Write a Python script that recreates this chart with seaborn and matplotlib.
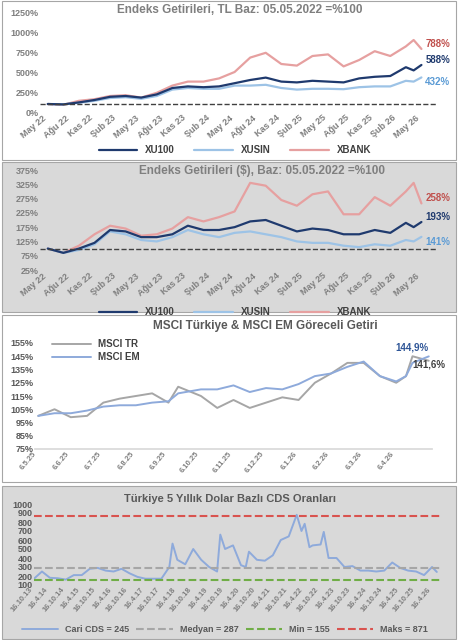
import numpy as np
import pandas as pd
import seaborn as sns
import matplotlib.pyplot as plt
from matplotlib.patches import Rectangle

# --- Panel 1: TL based returns (month offset from May 22) ---
m_x = [0, 2, 4, 6, 8, 10, 12, 14, 16, 18, 20, 22, 24, 26, 28, 30, 32, 34, 36, 38, 40, 42, 44, 46, 47, 48]
tl_xu100 = [100, 95, 120, 150, 190, 200, 180, 220, 300, 320, 310, 320, 360, 400, 430, 380, 370, 390, 380, 370, 420, 440, 450, 560, 520, 588]
tl_xusin = [100, 95, 115, 140, 175, 185, 165, 200, 280, 300, 290, 290, 330, 330, 340, 300, 280, 290, 290, 285, 310, 320, 320, 390, 380, 432]
tl_xbank = [100, 90, 140, 160, 200, 210, 180, 240, 330, 380, 380, 420, 500, 680, 740, 600, 580, 700, 720, 570, 650, 760, 700, 820, 900, 788]

# --- Panel 2: USD based returns ---
usd_xu100 = [100, 85, 100, 120, 165, 160, 140, 140, 150, 180, 165, 165, 175, 195, 200, 180, 160, 170, 165, 150, 150, 165, 155, 190, 175, 193]
usd_xusin = [100, 85, 95, 115, 160, 150, 130, 125, 140, 165, 150, 140, 155, 160, 150, 140, 125, 120, 120, 110, 105, 115, 110, 130, 125, 141]
usd_xbank = [100, 85, 110, 150, 180, 170, 145, 150, 170, 210, 195, 210, 230, 330, 320, 270, 250, 290, 300, 220, 220, 280, 250, 300, 330, 258]
month_ticks = ["May 22", "Ağu 22", "Kas 22", "Şub 23", "May 23", "Ağu 23", "Kas 23", "Şub 24", "May 24",
               "Ağu 24", "Kas 24", "Şub 25", "May 25", "Ağu 25", "Kas 25", "Şub 26", "May 26"]

# --- Panel 3: MSCI relative (months from 6.5.25) ---
ms_x = [0, 0.5, 1, 1.5, 2, 2.5, 3, 3.5, 4, 4.3, 5, 5.5, 6, 6.5, 7, 7.5, 8, 8.5, 9, 9.5, 10, 10.5, 11, 11.3, 11.5, 12]
msci_tr = [100, 105, 99, 100, 110, 113, 115, 117, 110, 122, 115, 106, 112, 106, 110, 114, 112, 125, 132, 140, 140, 130, 125, 130, 145, 141.6]
msci_em = [100, 102, 102, 104, 107, 108, 108, 110, 111, 117, 120, 120, 123, 118, 121, 120, 124, 130, 132, 137, 141, 130, 126, 130, 140, 144.9]
ms_ticks = ["6.5.25", "6.6.25", "6.7.25", "6.8.25", "6.9.25", "6.10.25", "6.11.25", "6.12.25",
            "6.1.26", "6.2.26", "6.3.26", "6.4.26"]

# --- Panel 4: CDS (half-years from 16.10.13) ---
cds_x = [0, 0.5, 1, 1.5, 2, 2.5, 3, 3.5, 4, 4.5, 5, 5.5, 6, 6.5, 7, 7.5, 8, 8.5, 8.7, 9, 9.5, 10, 10.5, 11,
         11.5, 11.7, 12, 12.5, 13, 13.3, 13.5, 14, 14.5, 15, 15.5, 16, 16.5, 16.8, 17, 17.3, 17.5, 18, 18.2,
         18.5, 19, 19.5, 20, 20.5, 21, 21.5, 22, 22.5, 23, 23.5, 24, 24.5, 25, 25.3]
cds = [170, 250, 180, 175, 160, 210, 210, 280, 290, 260, 250, 280, 230, 190, 170, 170, 170, 300, 560, 380,
       330, 500, 380, 300, 250, 660, 500, 540, 320, 300, 470, 380, 370, 430, 600, 640, 880, 700, 780, 520,
       540, 550, 690, 400, 400, 300, 310, 260, 260, 250, 260, 350, 290, 260, 250, 210, 300, 245]
cds_ticks = [f"16.{'10' if i % 2 == 0 else '4'}.{13 + (i + 1) // 2}" for i in range(26)]
cds_med, cds_min, cds_max = 287, 155, 871

sns.set_theme(style="white")
plt.rcParams['font.family'] = ['Liberation Sans', 'DejaVu Sans']
plt.rcParams['font.weight'] = 'bold'

W, H = 458, 640
fig = plt.figure(figsize=(W / 100, H / 100), dpi=100)
fig.patch.set_facecolor("white")

GRAY_BG = "#d9d9d9"
TXT = "#7f7f7f"
NAVY = "#1f3a6e"
LBLUE = "#9dc3e6"
PINK = "#e6a0a0"


def box(top, bottom, color):
    fig.patches.append(Rectangle((2 / W, 1 - bottom / H), (W - 4) / W, (bottom - top) / H,
                                 transform=fig.transFigure, facecolor=color, edgecolor="#a6a6a6", lw=0.8, zorder=-5))


def ax_at(left, top, right, bottom):
    ax = fig.add_axes([left / W, 1 - bottom / H, (right - left) / W, (bottom - top) / H])
    ax.set_facecolor("none")
    for s in ax.spines.values():
        s.set_visible(False)
    ax.tick_params(labelsize=6.5, colors=TXT, length=0, pad=1)
    return ax


def ftext(x, y, s, **kw):
    fig.text(x / W, 1 - y / H, s, **kw)


def flegend(ax, handles, labels, x, y, **kw):
    fig.legend(handles, labels, loc="center", bbox_to_anchor=(x / W, 1 - y / H), frameon=False,
               handlelength=4, **kw)


box(1, 160, "white")
box(162, 312, GRAY_BG)
box(315, 482, "white")
box(486, 639, GRAY_BG)

# Panel 1
ax1 = ax_at(40, 12, 437, 112)
df1 = pd.DataFrame({"x": m_x, "XU100": tl_xu100, "XUSIN": tl_xusin, "XBANK": tl_xbank})
for name, col in [("XBANK", PINK), ("XUSIN", LBLUE), ("XU100", NAVY)]:
    sns.lineplot(data=df1, x="x", y=name, ax=ax1, color=col, lw=1.6, label=name)
ax1.axhline(100, color="#404040", ls="--", lw=1)
ax1.set_ylim(0, 1250)
ax1.set_yticks(range(0, 1251, 250))
ax1.set_yticklabels([f"{v}%" for v in range(0, 1251, 250)])
ax1.set_xlim(-1, 50)
ax1.set_xticks(range(0, 49, 3))
ax1.set_xticklabels(month_ticks, rotation=40, ha="right")
ax1.set_xlabel(""); ax1.set_ylabel("")
ftext(240, 10, "Endeks Getirileri, TL Baz: 05.05.2022 =%100", fontsize=8.5, color=TXT, weight="bold",
      ha="center", va="center")
h, l = ax1.get_legend_handles_labels()
ax1.get_legend().remove()
flegend(ax1, [h[2], h[1], h[0]], [l[2], l[1], l[0]], 235, 150, ncol=3, fontsize=7, labelcolor="#404040")
ax1.text(48.5, 788, "788%", color="#c0504d", fontsize=7, weight="bold", va="bottom")
ax1.text(48.5, 588, "588%", color=NAVY, fontsize=7, weight="bold", va="bottom")
ax1.text(48.5, 432, "432%", color="#5b9bd5", fontsize=7, weight="bold", va="top")

# Panel 2
ax2 = ax_at(40, 170, 437, 270)
df2 = pd.DataFrame({"x": m_x, "XU100": usd_xu100, "XUSIN": usd_xusin, "XBANK": usd_xbank})
for name, col in [("XBANK", PINK), ("XUSIN", LBLUE), ("XU100", NAVY)]:
    sns.lineplot(data=df2, x="x", y=name, ax=ax2, color=col, lw=1.6, label=name)
ax2.axhline(100, color="#404040", ls="--", lw=1)
ax2.set_ylim(25, 375)
ax2.set_yticks(range(25, 376, 50))
ax2.set_yticklabels([f"{v}%" for v in range(25, 376, 50)])
ax2.set_xlim(-1, 50)
ax2.set_xticks(range(0, 49, 3))
ax2.set_xticklabels(month_ticks, rotation=40, ha="right")
ax2.set_xlabel(""); ax2.set_ylabel("")
ftext(262, 171, "Endeks Getirileri ($), Baz: 05.05.2022 =%100", fontsize=8.5, color=TXT, weight="bold",
      ha="center", va="center")
h, l = ax2.get_legend_handles_labels()
ax2.get_legend().remove()
flegend(ax2, [h[2], h[1], h[0]], [l[2], l[1], l[0]], 235, 312, ncol=3, fontsize=7, labelcolor="#404040")
ax2.text(48.5, 258, "258%", color="#c0504d", fontsize=7, weight="bold", va="bottom")
ax2.text(48.5, 193, "193%", color=NAVY, fontsize=7, weight="bold", va="bottom")
ax2.text(48.5, 141, "141%", color="#5b9bd5", fontsize=7, weight="bold", va="top")

# Panel 3
ax3 = ax_at(35, 343, 432, 449)
df3 = pd.DataFrame({"x": ms_x, "MSCI TR": msci_tr, "MSCI EM": msci_em})
sns.lineplot(data=df3, x="x", y="MSCI TR", ax=ax3, color="#a6a6a6", lw=1.4, label="MSCI TR")
sns.lineplot(data=df3, x="x", y="MSCI EM", ax=ax3, color="#8eaadb", lw=1.4, label="MSCI EM")
ax3.set_ylim(75, 155)
ax3.set_yticks(range(75, 156, 10))
ax3.set_yticklabels([f"{v}%" for v in range(75, 156, 10)], color="#595959")
ax3.set_xlim(-0.1, 12.1)
ax3.set_xticks(range(12))
ax3.set_xticklabels(ms_ticks, rotation=50, ha="right", fontsize=5.5)
ax3.set_xlabel(""); ax3.set_ylabel("")
ax3.spines["bottom"].set_visible(True)
ax3.spines["bottom"].set_color("#d9d9d9")
ftext(265, 326, "MSCI Türkiye & MSCI EM Göreceli Getiri", fontsize=8.5, color="#595959", weight="bold",
      ha="center", va="center")
ax3.legend(loc="upper left", bbox_to_anchor=(0.02, 1.12), frameon=False, fontsize=7, handlelength=4,
           labelspacing=0.3, labelcolor="#404040")
ax3.text(12, 148, "144,9%", color="#2e5597", fontsize=7, weight="bold", ha="right", va="bottom")
ax3.text(11.5, 135, "141,6%", color="#404040", fontsize=7, weight="bold", va="bottom")

# Panel 4
ax4 = ax_at(34, 504, 440, 585)
df4 = pd.DataFrame({"x": cds_x, "cds": cds})
sns.lineplot(data=df4, x="x", y="cds", ax=ax4, color="#8eaadb", lw=1.4, label=f"Cari CDS = {cds[-1]}")
ax4.axhline(cds_med, color="#a6a6a6", ls="--", lw=1.5, label=f"Medyan = {cds_med}")
ax4.axhline(cds_min, color="#70ad47", ls="--", lw=1.5, label=f"Min = {cds_min}")
ax4.axhline(cds_max, color="#d9534f", ls="--", lw=1.5, label=f"Maks = {cds_max}")
ax4.set_ylim(100, 1000)
ax4.set_yticks(range(100, 1001, 100))
ax4.tick_params(axis="y", labelsize=6.5, colors="#595959")
ax4.set_xlim(0, 25.5)
ax4.set_xticks(range(26))
ax4.set_xticklabels(cds_ticks, rotation=50, ha="right", fontsize=5.5)
ax4.set_xlabel(""); ax4.set_ylabel("")
ftext(230, 499, "Türkiye 5 Yıllık Dolar Bazlı CDS Oranları", fontsize=8, color="#595959", weight="bold",
      ha="center", va="center")
h, l = ax4.get_legend_handles_labels()
ax4.get_legend().remove()
flegend(ax4, h, l, 225, 630, ncol=4, fontsize=6.5, columnspacing=0.8, labelcolor="#595959")

fig.savefig("out.png", dpi=100)
